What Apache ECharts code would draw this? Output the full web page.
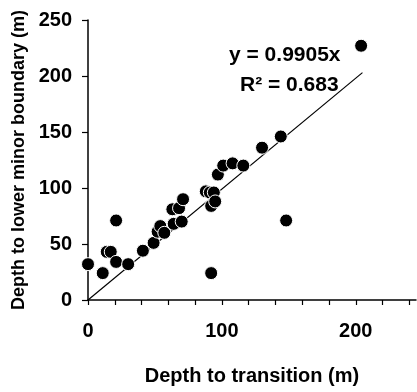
<!DOCTYPE html>
<html>
<head>
<meta charset="utf-8">
<script src="https://cdn.jsdelivr.net/npm/echarts@6/dist/echarts.min.js"></script>
<style>
  html, body { margin: 0; padding: 0; background: #fff; }
  #main { width: 417px; height: 392px; }
</style>
</head>
<body>
<div id="main"></div>
<script>
// depth values (m)
let depthTransition = [0, 11, 14, 17, 21, 21, 30, 41, 49, 52, 54, 57, 63, 64, 68, 70, 71, 88, 91, 94, 92, 95, 92, 97, 101, 108, 116, 130, 144, 148, 204];
let depthBoundary   = [32, 24, 43, 43, 71, 34, 32, 44, 51, 61, 66, 60, 81, 68, 82, 70, 90, 97, 96, 96, 84, 88, 24, 112, 120, 122, 120, 136, 146, 71, 227];

// fitted line end points
let fitX = [0, 205];
let fitY = [0, 203];

let xLabels = [0, 100, 200];
let yLabels = [0, 50, 100, 150, 200, 250];

let points = [];
for (let i = 0; i < depthTransition.length; i++) {
  points.push([depthTransition[i], depthBoundary[i]]);
}
let fitLine = [];
for (let i = 0; i < fitX.length; i++) {
  fitLine.push([fitX[i], fitY[i]]);
}

const font = 'Liberation Sans, Arial, sans-serif';
const chart = echarts.init(document.getElementById('main'));

const option = {
  animation: false,
  backgroundColor: '#fff',
  grid: {
    left: 88,
    top: 20,
    right: 1,
    bottom: 92
  },
  xAxis: {
    type: 'value',
    min: 0,
    max: 245,
    interval: 20,
    name: 'Depth to transition (m)',
    nameLocation: 'middle',
    nameGap: 66,
    nameTextStyle: { color: '#000', fontSize: 20, fontWeight: 'bold', fontFamily: font },
    splitLine: { show: false },
    axisLine: { lineStyle: { color: '#000', width: 1.5 } },
    axisTick: { length: 5, lineStyle: { color: '#000', width: 1.2 } },
    axisLabel: {
      color: '#000',
      fontSize: 20,
      fontWeight: 'bold',
      fontFamily: font,
      margin: 21,
      showMaxLabel: false,
      formatter: function (v) {
        return xLabels.indexOf(v) >= 0 ? String(v) : '';
      }
    }
  },
  yAxis: {
    type: 'value',
    min: 0,
    max: 250,
    interval: 50,
    name: 'Depth to lower minor boundary (m)',
    nameLocation: 'middle',
    nameGap: 49,
    nameTextStyle: { color: '#000', fontSize: 18, fontWeight: 'bold', fontFamily: font },
    splitLine: { show: false },
    axisLine: { show: true, lineStyle: { color: '#000', width: 1.5 } },
    axisTick: { show: true, length: 6, lineStyle: { color: '#000', width: 1.2 } },
    axisLabel: {
      color: '#000',
      fontSize: 20,
      fontWeight: 'bold',
      fontFamily: font,
      margin: 16,
      formatter: function (v) {
        return yLabels.indexOf(v) >= 0 ? String(v) : '';
      }
    }
  },
  graphic: [
    {
      type: 'text',
      left: 229,
      top: 45,
      style: { text: 'y = 0.9905x', fill: '#000', font: 'bold 21px ' + font }
    },
    {
      type: 'text',
      left: 240,
      top: 75,
      style: { text: 'R² = 0.683', fill: '#000', font: 'bold 21px ' + font }
    }
  ],
  series: [
    {
      type: 'line',
      data: fitLine,
      symbol: 'none',
      lineStyle: { color: '#000', width: 1.2 },
      z: 2
    },
    {
      type: 'scatter',
      data: points,
      symbol: 'circle',
      symbolSize: 13,
      itemStyle: { color: '#000', borderColor: '#fff', borderWidth: 1, opacity: 1 },
      z: 3
    }
  ]
};

chart.setOption(option);
</script>
</body>
</html>
